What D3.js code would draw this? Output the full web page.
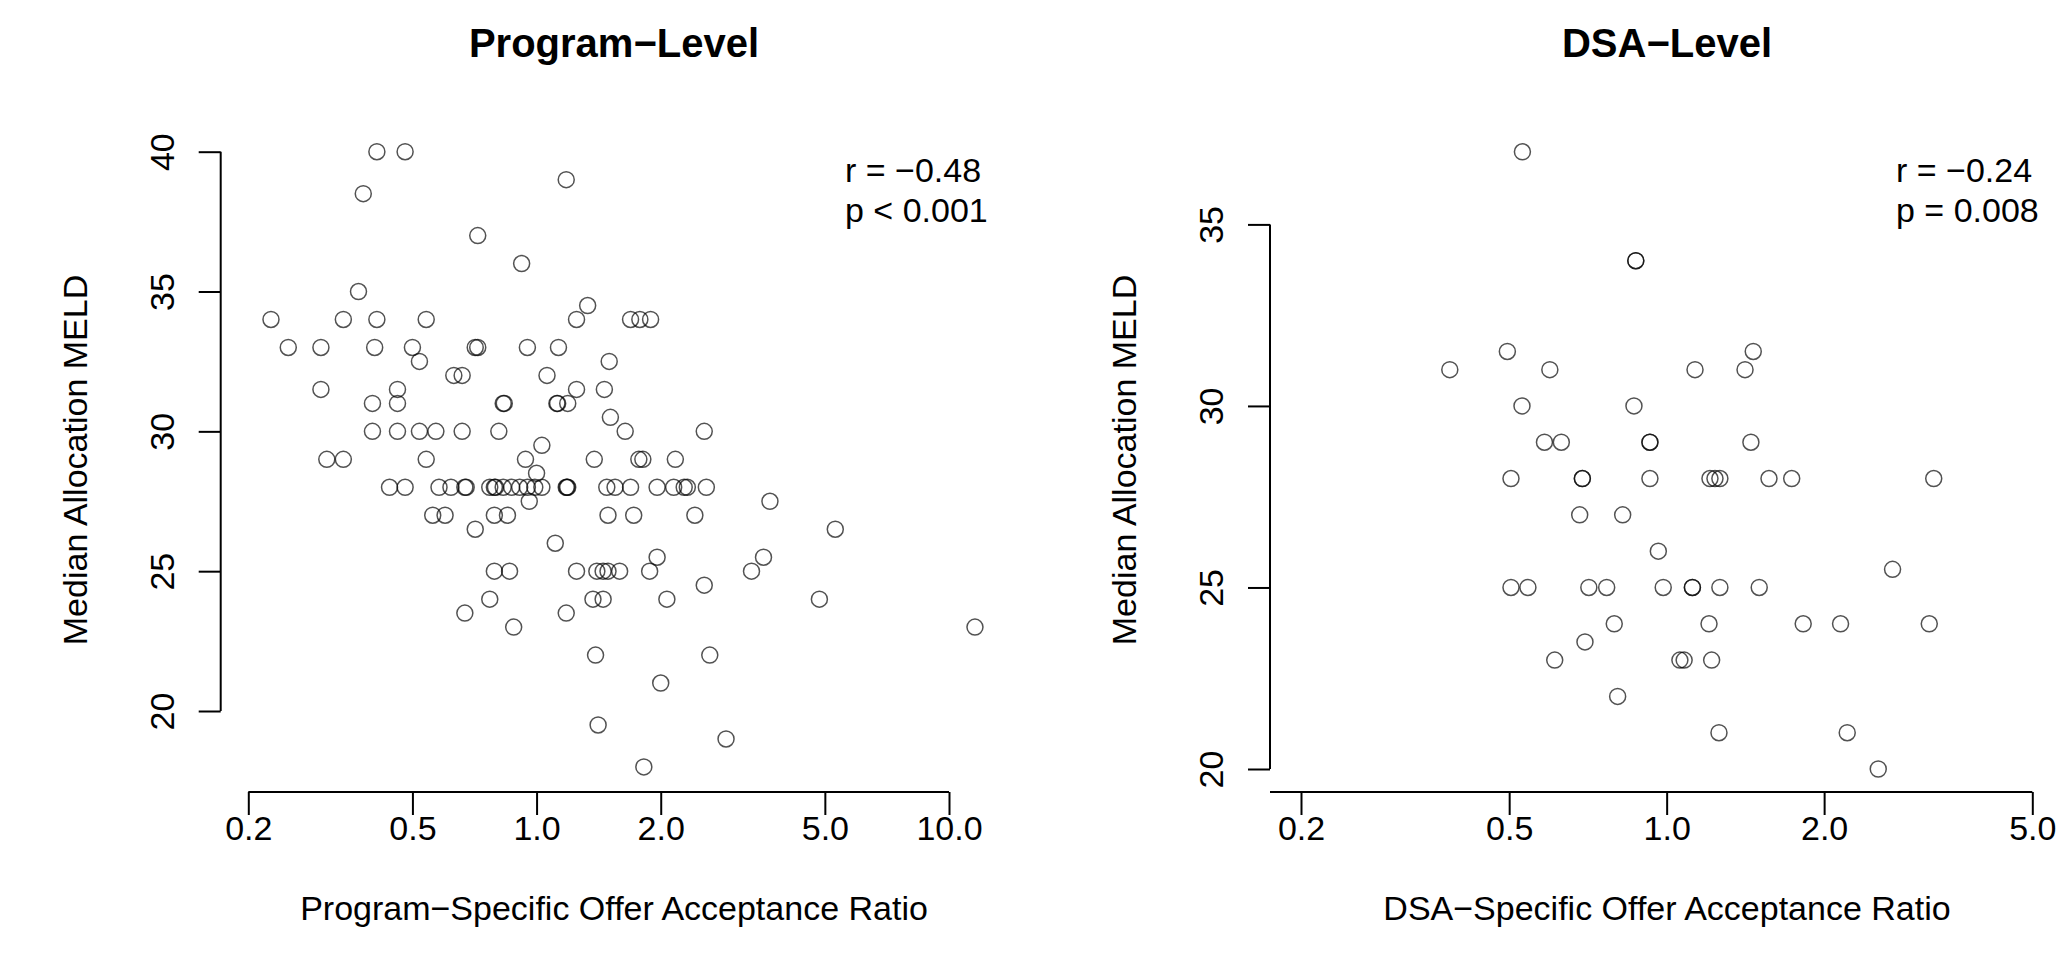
<!DOCTYPE html>
<html>
<head>
<meta charset="utf-8">
<script src="https://cdn.jsdelivr.net/npm/d3@7"></script>
<style>
html, body { margin: 0; padding: 0; background: #fff; }
svg { display: block; }
text { font-family: "Liberation Sans", Arial, sans-serif; fill: #000; }
</style>
</head>
<body>
<svg id="chart" width="2063" height="960"></svg>
<script>
// ---------------- data ----------------
const programRatio = [
  0.41, 0.48,
  1.18,
  0.38,
  0.72,
  0.92,
  0.37,
  1.33,
  0.227, 0.34, 0.41, 0.54, 1.25, 1.69, 1.78, 1.89,
  0.25, 0.30, 0.405, 0.50, 0.71, 0.72, 0.95, 1.13,
  0.52, 1.50,
  0.63, 0.66, 1.06,
  0.30, 0.46, 1.25, 1.46,
  0.40, 0.46, 0.83, 0.835, 1.12, 1.125, 1.19,
  1.51,
  0.40, 0.46, 0.52, 0.57, 0.66, 0.81, 1.64, 2.55,
  1.03,
  0.31, 0.34, 0.54, 0.94, 1.38, 1.77, 1.81, 2.17,
  1.0,
  0.44, 0.48, 0.58, 0.62, 0.67, 0.675, 0.77, 0.79, 0.795, 0.83, 0.87, 0.91, 0.95,
  0.99, 1.03, 1.18, 1.185, 1.19, 1.48, 1.55, 1.69, 1.96, 2.15, 2.28, 2.32, 2.58,
  0.96, 3.68,
  0.56, 0.60, 0.79, 0.85, 1.49, 1.72, 2.42,
  0.71, 5.3,
  1.11,
  1.96, 3.55,
  0.79, 0.86, 1.25, 1.40, 1.45, 1.49, 1.59, 1.88, 3.32,
  2.55,
  0.77, 1.37, 1.45, 2.07, 4.85,
  0.67, 1.18,
  0.88, 11.56,
  1.39, 2.63,
  2.0,
  1.41,
  2.88,
  1.82
];
const programMeld = [
  40, 40,
  39,
  38.5,
  37,
  36,
  35,
  34.5,
  34, 34, 34, 34, 34, 34, 34, 34,
  33, 33, 33, 33, 33, 33, 33, 33,
  32.5, 32.5,
  32, 32, 32,
  31.5, 31.5, 31.5, 31.5,
  31, 31, 31, 31, 31, 31, 31,
  30.5,
  30, 30, 30, 30, 30, 30, 30, 30,
  29.5,
  29, 29, 29, 29, 29, 29, 29, 29,
  28.5,
  28, 28, 28, 28, 28, 28, 28, 28, 28, 28, 28, 28, 28,
  28, 28, 28, 28, 28, 28, 28, 28, 28, 28, 28, 28, 28,
  27.5, 27.5,
  27, 27, 27, 27, 27, 27, 27,
  26.5, 26.5,
  26,
  25.5, 25.5,
  25, 25, 25, 25, 25, 25, 25, 25, 25,
  24.5,
  24, 24, 24, 24, 24,
  23.5, 23.5,
  23, 23,
  22, 22,
  21,
  19.5,
  19,
  18
];

const dsaRatio = [
  0.53,
  0.873, 0.873,
  0.496, 1.464,
  0.385, 0.598, 1.133, 1.412,
  0.529, 0.866,
  0.584, 0.629, 0.929, 0.929, 1.449,
  0.504, 0.69, 0.69, 0.929, 1.21, 1.237, 1.264, 1.569, 1.734, 3.24,
  0.682, 0.824,
  0.964,
  2.703,
  0.504, 0.543, 0.71, 0.768, 0.985, 1.12, 1.12, 1.264, 1.503,
  0.794, 1.205, 1.824, 2.15, 3.177,
  0.698,
  0.611, 1.06, 1.08, 1.219,
  0.806,
  1.259, 2.214,
  2.538
];
const dsaMeld = [
  37,
  34, 34,
  31.5, 31.5,
  31, 31, 31, 31,
  30, 30,
  29, 29, 29, 29, 29,
  28, 28, 28, 28, 28, 28, 28, 28, 28, 28,
  27, 27,
  26,
  25.5,
  25, 25, 25, 25, 25, 25, 25, 25, 25,
  24, 24, 24, 24, 24,
  23.5,
  23, 23, 23, 23,
  22,
  21, 21,
  20
];

const programXTicks = [0.2, 0.5, 1, 2, 5, 10];
const programYTicks = [20, 25, 30, 35, 40];
const dsaXTicks = [0.2, 0.5, 1, 2, 5];
const dsaYTicks = [20, 25, 30, 35];

const titles = ["Program\u2212Level", "DSA\u2212Level"];
const xLabels = ["Program\u2212Specific Offer Acceptance Ratio", "DSA\u2212Specific Offer Acceptance Ratio"];
const yLabel = "Median Allocation MELD";
const statR = ["r = \u22120.48", "r = \u22120.24"];
const statP = ["p < 0.001", "p = 0.008"];

// ---------------- layout ----------------
const svg = d3.select("#chart");
svg.append("rect").attr("width", 2063).attr("height", 960).attr("fill", "#fff");

const FONT = 34;
const panels = [
  {
    ratio: programRatio, meld: programMeld,
    xTicks: programXTicks, yTicks: programYTicks,
    x: d3.scaleLog().domain([0.2, 10]).range([248.3, 949]),
    y: d3.scaleLinear().domain([20, 40]).range([711, 151.7]),
    axisX: 220.7, axisY: 792, xLineStart: null,
    center: 614, statX: 845,
    title: titles[0], xLabel: xLabels[0], r: statR[0], p: statP[0]
  },
  {
    ratio: dsaRatio, meld: dsaMeld,
    xTicks: dsaXTicks, yTicks: dsaYTicks,
    x: d3.scaleLog().domain([0.2, 5]).range([1301, 2032.3]),
    y: d3.scaleLinear().domain([20, 35]).range([769, 224.4]),
    axisX: 1270, axisY: 792, xLineStart: 1270,
    center: 1667, statX: 1896,
    title: titles[1], xLabel: xLabels[1], r: statR[1], p: statP[1]
  }
];

panels.forEach(P => {
  const g = svg.append("g");

  // title
  g.append("text")
    .attr("x", P.center).attr("y", 57)
    .attr("text-anchor", "middle")
    .attr("font-size", 40).attr("font-weight", "bold")
    .text(P.title);

  // points
  const pts = P.ratio.map((v, i) => ({ x: v, y: P.meld[i] }));
  g.append("g").selectAll("circle").data(pts).join("circle")
    .attr("cx", d => P.x(d.x))
    .attr("cy", d => P.y(d.y))
    .attr("r", 8)
    .attr("fill", "none")
    .attr("stroke", "#000")
    .attr("stroke-opacity", 0.68)
    .attr("stroke-width", 1.5);

  // x axis
  const xa = g.append("g").attr("transform", `translate(0,${P.axisY})`)
    .call(d3.axisBottom(P.x).tickValues(P.xTicks).tickFormat(d3.format(".1f")).tickSize(23).tickSizeOuter(0));
  xa.select(".domain").remove();
  xa.selectAll(".tick line").attr("stroke", "#000").attr("stroke-width", 2);
  xa.selectAll(".tick text")
    .attr("dy", null).attr("y", 48)
    .attr("font-size", FONT).attr("font-family", "Liberation Sans, Arial, sans-serif").attr("fill", "#000");
  const x0 = P.xLineStart !== null ? P.xLineStart : P.x(P.xTicks[0]);
  g.append("line")
    .attr("x1", x0).attr("x2", P.x(P.xTicks[P.xTicks.length - 1]))
    .attr("y1", P.axisY).attr("y2", P.axisY)
    .attr("stroke", "#000").attr("stroke-width", 2);

  // y axis
  const ya = g.append("g").attr("transform", `translate(${P.axisX},0)`)
    .call(d3.axisLeft(P.y).tickValues(P.yTicks).tickFormat(d3.format("d")).tickSize(22).tickSizeOuter(0));
  ya.select(".domain").remove();
  ya.selectAll(".tick line").attr("stroke", "#000").attr("stroke-width", 2);
  ya.selectAll(".tick text")
    .attr("x", null).attr("dy", null)
    .attr("transform", "translate(-47,0) rotate(-90)")
    .attr("text-anchor", "middle")
    .attr("font-size", FONT).attr("font-family", "Liberation Sans, Arial, sans-serif").attr("fill", "#000");
  g.append("line")
    .attr("x1", P.axisX).attr("x2", P.axisX)
    .attr("y1", P.y(P.yTicks[0])).attr("y2", P.y(P.yTicks[P.yTicks.length - 1]))
    .attr("stroke", "#000").attr("stroke-width", 2);

  // axis titles
  g.append("text")
    .attr("x", P.center).attr("y", 920)
    .attr("text-anchor", "middle").attr("font-size", FONT)
    .text(P.xLabel);
  g.append("text")
    .attr("transform", `translate(${P.axisX - 134},460) rotate(-90)`)
    .attr("text-anchor", "middle").attr("font-size", FONT)
    .text(yLabel);

  // stats
  g.append("text").attr("x", P.statX).attr("y", 182).attr("font-size", FONT).text(P.r);
  g.append("text").attr("x", P.statX).attr("y", 222).attr("font-size", FONT).text(P.p);
});
</script>
</body>
</html>
